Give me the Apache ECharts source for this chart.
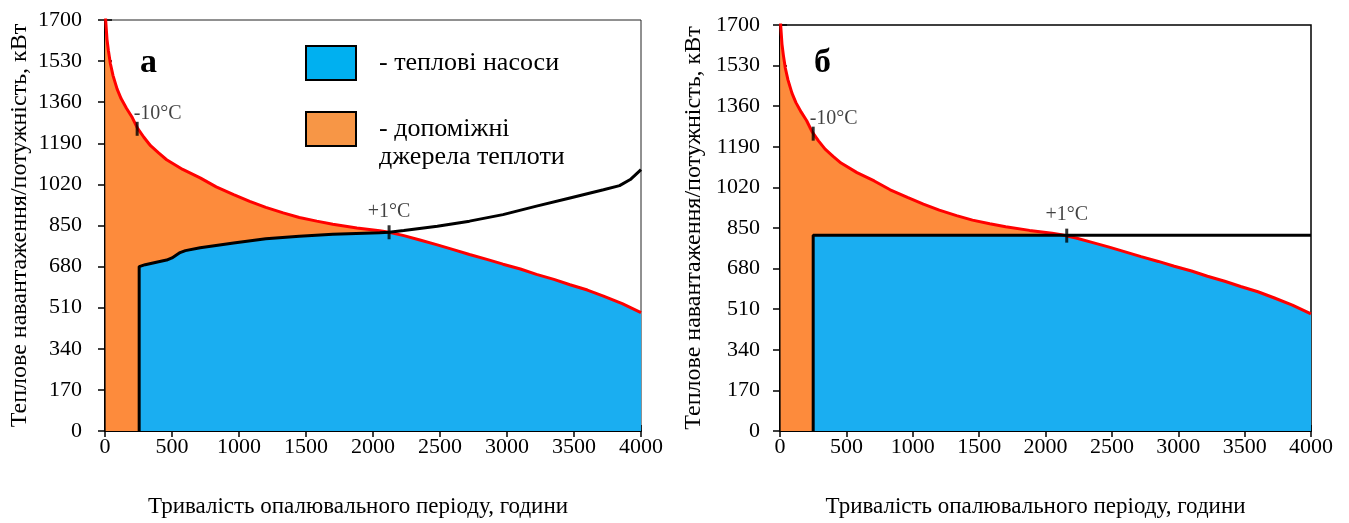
<!DOCTYPE html>
<html><head><meta charset="utf-8">
<script src="https://cdn.jsdelivr.net/npm/echarts@6/dist/echarts.min.js"></script>
<style>html,body{margin:0;padding:0;background:#fff}#c{width:1349px;height:523px}</style>
</head><body><div id="c"></div>
<script>
// ---- data ----
const loadHours = [0, 5, 15, 25, 40, 60, 90, 120, 160, 200, 240, 290, 340, 400, 460, 580, 710, 830, 960, 1080, 1200, 1330, 1450, 1580, 1700, 1880, 2050, 2120, 2230, 2350, 2480, 2600, 2720, 2850, 2970, 3100, 3220, 3350, 3470, 3600, 3720, 3860, 4000];
const loadKW    = [1800, 1700, 1620, 1575, 1520, 1470, 1415, 1375, 1335, 1300, 1255, 1215, 1180, 1150, 1122, 1082, 1047, 1010, 978, 950, 925, 902, 883, 868, 855, 840, 828, 822, 808, 790, 770, 750, 730, 710, 690, 670, 648, 627, 605, 583, 558, 527, 490];

const hpHoursA = [255, 255, 300, 400, 460, 500, 560, 600, 710, 960, 1200, 1450, 1700, 2050, 2120, 2230, 2480, 2720, 2970, 3220, 3470, 3720, 3840, 3920, 4000];
const hpKWA    = [0, 680, 688, 700, 707, 716, 738, 746, 758, 778, 795, 806, 814, 820, 822, 829, 847, 868, 895, 930, 964, 998, 1015, 1040, 1081];

const hpHoursB = [250, 250, 4000];
const hpKWB    = [0, 820, 820];

const crossA = 2120;   // +1°C balance point, panel а
const crossB = 2140;   // +1°C balance point, panel б

const markA = [[240, 1250, '-10°C'], [2120, 822, '+1°C']];
const markB = [[250, 1245, '-10°C'], [2160, 818, '+1°C']];

const xTicks = {min: 0, max: 4000, interval: 500};
const yTicks = {min: 0, max: 1700, interval: 170};

const xTitle = 'Тривалість опалювального періоду, години';
const yTitle = 'Теплове навантаження/потужність, кВт';
const nameHP = 'теплові насоси';
const nameAux = 'допоміжні джерела теплоти';

// ---- build ----
const F = '"Liberation Serif", "Times New Roman", serif';
const pairs = (xs, ys) => xs.map((x, i) => [x, ys[i]]);
const load = pairs(loadHours, loadKW);
const hpA = pairs(hpHoursA, hpKWA);
const hpB = pairs(hpHoursB, hpKWB);
const blueA = hpA.filter(p => p[0] <= crossA).concat(load.filter(p => p[0] > crossA));
const blueB = hpB.filter(p => p[0] < crossB).concat([[crossB, hpKWB[1]]]).concat(load.filter(p => p[0] > crossB));

const ORANGE = '#FD8B3C', BLUE = '#1AAEF1';

function axesFor(g, yGap, xLabelMargin, yLabelMargin, xNamePad) {
  const lab = {fontSize: 22, color: '#000', fontFamily: F, formatter: v => String(v)};
  return {
    x: [
      Object.assign({gridIndex: g, type: 'value', position: 'bottom',
        axisLine: {show: true, onZero: false, lineStyle: {color: '#000', width: 2}},
        axisTick: {show: true, length: 6, lineStyle: {color: '#000', width: 1.5}},
        axisLabel: Object.assign({margin: xLabelMargin}, lab),
        splitLine: {show: false},
        name: xTitle, nameLocation: 'middle', nameGap: 64,
        nameTextStyle: {fontSize: 23, color: '#000', fontFamily: F, padding: [0, xNamePad, 0, 0]}}, xTicks),
      Object.assign({gridIndex: g, type: 'value', position: 'bottom',
        axisLine: {show: false}, axisTick: {show: true, inside: true, length: 6, lineStyle: {color: '#000', width: 1.5}},
        axisLabel: {show: false}, splitLine: {show: false}}, xTicks)
    ],
    y: [
      Object.assign({gridIndex: g, type: 'value', position: 'left',
        axisLine: {show: true, onZero: false, lineStyle: {color: '#000', width: 2}},
        axisTick: {show: true, length: 7, lineStyle: {color: '#000', width: 1.5}},
        axisLabel: Object.assign({margin: yLabelMargin}, lab),
        splitLine: {show: false},
        name: yTitle, nameLocation: 'middle', nameGap: yGap,
        nameTextStyle: {fontSize: 24, color: '#000', fontFamily: F}}, yTicks),
      Object.assign({gridIndex: g, type: 'value', position: 'left',
        axisLine: {show: false}, axisTick: {show: true, inside: true, length: 7, lineStyle: {color: '#000', width: 1.5}},
        axisLabel: {show: false}, splitLine: {show: false}}, yTicks)
    ]
  };
}
const A = axesFor(0, 73, 5, 23, 30);
const B = axesFor(1, 74, 5, 20, 20);

function panelSeries(g, blue, hp, marks) {
  const xi = g * 2, yi = g * 2;
  return [
    {type: 'line', name: nameAux, xAxisIndex: xi, yAxisIndex: yi, data: load, symbol: 'none',
     lineStyle: {width: 0}, itemStyle: {color: ORANGE},
     areaStyle: {color: ORANGE, opacity: 1}, z: 1},
    {type: 'line', name: nameHP, xAxisIndex: xi, yAxisIndex: yi, data: blue, symbol: 'none',
     lineStyle: {width: 0}, itemStyle: {color: BLUE}, areaStyle: {color: BLUE, opacity: 1}, z: 2},
    {type: 'line', xAxisIndex: xi, yAxisIndex: yi, data: load, symbol: 'none',
     lineStyle: {color: '#FF0000', width: 3}, z: 3},
    {type: 'line', xAxisIndex: xi, yAxisIndex: yi, data: hp, symbol: 'none',
     lineStyle: {color: '#000', width: 3}, z: 4},
    {type: 'scatter', xAxisIndex: xi, yAxisIndex: yi, symbol: 'rect', symbolSize: [3, 14],
     itemStyle: {color: '#000'}, z: 5,
     data: marks.map((m, i) => ({value: [m[0], m[1]], name: m[2],
       label: i === 0 ? {show: true, position: [-2, 2], align: 'left', verticalAlign: 'bottom'}
                      : {show: true, position: 'top', distance: 4}})),
     label: {show: true, formatter: '{b}', fontSize: 20, color: '#111', fontFamily: F, textBorderWidth: 0}}
  ];
}

const option = {
  animation: false,
  backgroundColor: '#fff',
  grid: [
    {left: 105, top: 20, width: 536, height: 412, show: true, borderColor: '#222', borderWidth: 1, backgroundColor: '#fff'},
    {left: 780, top: 25, width: 531, height: 407, show: true, borderColor: '#000', borderWidth: 1.5, backgroundColor: '#fff'}
  ],
  title: [
    {text: 'а', left: 135, top: 41, textStyle: {fontSize: 34, fontWeight: 'bold', fontFamily: F, color: '#000'}},
    {text: 'б', left: 809, top: 41, textStyle: {fontSize: 34, fontWeight: 'bold', fontFamily: F, color: '#000'}}
  ],
  legend: {
    left: 300, top: 40, orient: 'vertical', icon: 'rect', itemWidth: 50, itemHeight: 34, itemGap: 6,
    selectedMode: false,
    itemStyle: {borderColor: '#000', borderWidth: 2},
    textStyle: {fontSize: 26, color: '#000', fontFamily: F, lineHeight: 28},
    data: [
      {name: nameHP, itemStyle: {color: '#00B0F0', borderColor: '#000', borderWidth: 2},
       textStyle: {padding: [0, 0, 0, 18]}},
      {name: nameAux, itemStyle: {color: '#F79646', borderColor: '#000', borderWidth: 2},
       textStyle: {padding: [0, 0, 0, 18]}}
    ],
    formatter: n => n === nameHP ? '- теплові насоси' : '\n- допоміжні\nджерела теплоти'
  },
  xAxis: A.x.concat(B.x),
  yAxis: A.y.concat(B.y),
  series: panelSeries(0, blueA, hpA, markA).concat(panelSeries(1, blueB, hpB, markB))
};
option.series.forEach((s, i) => { if (i >= 5) { s.xAxisIndex = 2; s.yAxisIndex = 2; } });
option.xAxis[2].gridIndex = 1; option.xAxis[3].gridIndex = 1;
option.yAxis[2].gridIndex = 1; option.yAxis[3].gridIndex = 1;

const chart = echarts.init(document.getElementById('c'), null, {renderer: 'canvas'});
chart.setOption(option);
</script></body></html>
